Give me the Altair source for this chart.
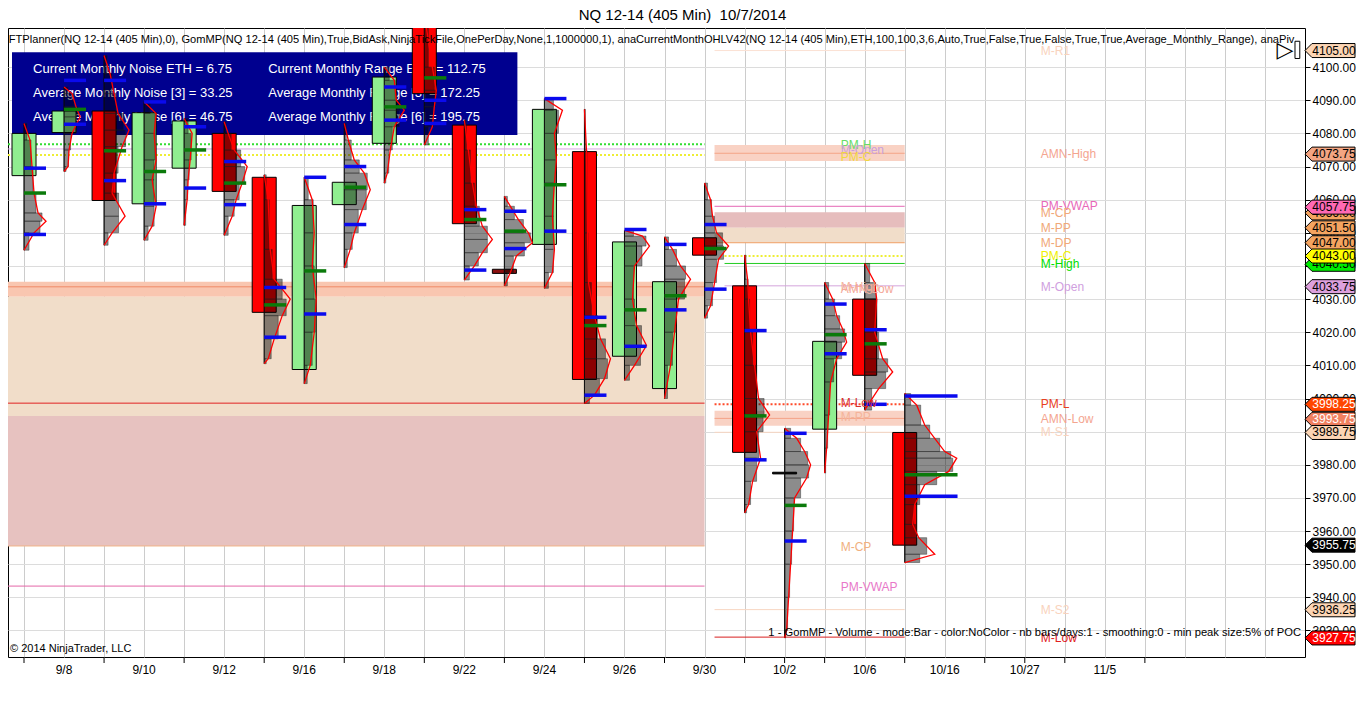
import altair as alt
import pandas as pd

FONT = "Liberation Sans"

# ---------------- candles (one 405-min session per slot) ----------------
slots  = list(range(23))
opens  = [4067.25, 4080.25, 4086.75, 4058.75, 4069.5, 4080.0, 4066.75, 4008.75, 4058.5, 4077.0, 4114.0, 4082.5,
          4039.0, 4046.5, 4074.5, 4012.75, 4003.0, 4048.5, 4034.0, 3977.75, 3990.75, 4030.0, 3989.75]
highs  = [4083.0, 4094.0, 4103.5, 4089.5, 4084.5, 4083.5, 4067.5, 4066.75, 4083.0, 4100.0, 4116.0, 4084.0,
          4061.0, 4090.5, 4087.25, 4050.75, 4048.75, 4065.0, 4043.25, 3991.0, 4035.0, 4040.75, 4001.5]
lows   = [4044.75, 4068.5, 4046.25, 4047.75, 4052.25, 4049.25, 4010.5, 4004.5, 4039.5, 4065.0, 4076.5, 4035.75,
          4034.0, 4033.25, 3998.5, 4005.5, 4000.0, 4024.25, 3965.5, 3927.75, 3977.5, 3996.5, 3950.5]
closes = [4080.0, 4086.75, 4059.75, 4086.25, 4083.75, 4062.5, 4026.0, 4058.25, 4065.25, 4097.0, 4092.0, 4052.75,
          4037.75, 4087.25, 4005.75, 4047.25, 4035.25, 4043.25, 3983.75, 3977.25, 4017.25, 4007.0, 3955.75]
doji_colors = {12: "#8b1010", 19: "#000000"}

# value-area high / low (blue) and VWAP-like (green) markers per session
blue_hi = [4069.5, 4096.0, 4096.0, 4089.5, 4082.0, 4071.5, 4033.5, 4066.75, 4070.0, 4094.0, 4090.0, 4057.0,
           4056.5, 4090.5, 4024.5, 4051.0, 4046.5, 4052.5, 4020.5, 3989.5, 4028.5, 4020.75, 4000.75]
blue_lo = [4049.5, 4082.75, 4065.75, 4058.75, 4063.5, 4058.5, 4018.5, 4025.5, 4052.5, 4084.0, 4083.0, 4038.75,
           4045.25, 4050.5, 4001.0, 4015.75, 4026.75, 4033.0, 3981.5, 3957.0, 4013.5, 3998.25, 3970.5]
green_m = [4062.0, 4087.25, 4074.75, 4068.5, 4075.0, 4065.0, 4028.25, 4038.5, 4063.75, 4088.0, 4096.75, 4054.0,
           4050.5, 4064.5, 4022.0, 4026.75, 4031.0, 4045.25, 3994.75, 3967.75, 4019.25, 4016.5, 3977.0]

# volume profiles: (price, width in px-equivalent volume)
profile_0 = [(4083, 0), (4078, 6), (4070, 8), (4062, 10), (4056, 14), (4053.5, 22), (4050, 10), (4044.75, 0)]
profile_1 = [(4094, 0), (4092, 8), (4088, 12), (4085, 16), (4080, 8), (4075, 5), (4070, 4), (4068.5, 0)]
profile_2 = [(4103.5, 0), (4098, 6), (4092, 10), (4086, 14), (4081, 25), (4076, 18), (4068, 10), (4062, 8),
             (4055, 21), (4050, 8), (4046.25, 0)]
profile_3 = [(4089.5, 0), (4086, 12), (4080, 10), (4072, 12), (4066, 8), (4058, 12), (4052, 8), (4047.75, 0)]
profile_4 = [(4084.5, 0), (4080, 8), (4072, 6), (4066, 4), (4060, 3), (4052.25, 0)]
profile_5 = [(4083.5, 0), (4080, 4), (4075, 10), (4070, 23), (4065, 18), (4060, 12), (4055, 8), (4049.25, 0)]
profile_6 = [(4067.5, 0), (4060, 4), (4045, 6), (4036, 10), (4030, 26), (4025, 18), (4018, 10), (4012, 4), (4010.5, 0)]
profile_7 = [(4066.75, 0), (4060, 8), (4050, 10), (4040, 8), (4030, 12), (4020, 10), (4010, 6), (4004.5, 0)]
profile_8 = [(4083, 0), (4078, 4), (4072, 10), (4068, 20), (4063, 26), (4057, 18), (4050, 10), (4045, 6), (4039.5, 0)]
profile_9 = [(4100, 0), (4096, 10), (4090, 12), (4087, 20), (4082, 10), (4075, 6), (4068, 3), (4065, 0)]
profile_10 = [(4116, 0), (4100, 8), (4093, 12), (4088, 10), (4082, 8), (4076.5, 0)]
profile_11 = [(4084, 0), (4075, 4), (4065, 8), (4058, 12), (4052, 18), (4048, 28), (4044, 18), (4040, 10), (4035.75, 0)]
profile_12 = [(4061, 0), (4058, 6), (4054, 14), (4050, 24), (4047, 28), (4043, 12), (4038, 6), (4034, 0)]
profile_13 = [(4090.5, 0), (4087, 18), (4080, 10), (4072, 12), (4065, 10), (4055, 8), (4045, 10), (4038, 8), (4033.25, 0)]
profile_14 = [(4087.25, 0), (4075, 2), (4050, 3), (4035, 4), (4025, 10), (4018, 16), (4012, 26), (4006, 20),
              (4001, 10), (3998.5, 0)]
profile_15 = [(4050.75, 0), (4049, 18), (4046, 25), (4040, 10), (4030, 8), (4022, 12), (4016, 22), (4010, 10), (4005.5, 0)]
profile_16 = [(4048.75, 0), (4045, 8), (4040, 16), (4036, 26), (4030, 14), (4020, 10), (4010, 6), (4000, 0)]
profile_17 = [(4065, 0), (4060, 6), (4055, 8), (4050, 12), (4046, 24), (4042, 14), (4035, 10), (4028, 6), (4024.25, 0)]
profile_18 = [(4043.25, 0), (4036, 3), (4030, 4), (4020, 6), (4010, 10), (4000, 14), (3995, 25), (3990, 12),
              (3982, 16), (3975, 8), (3968, 4), (3965.5, 0)]
profile_19 = [(3991, 0), (3988, 12), (3984, 20), (3980, 26), (3976, 22), (3970, 10), (3960, 8), (3950, 6),
              (3940, 4), (3930, 2), (3927.75, 0)]
profile_20 = [(4035, 0), (4030, 8), (4025, 12), (4021, 18), (4017, 22), (4012, 12), (4005, 6), (3995, 4),
              (3985, 2), (3977.5, 0)]
profile_21 = [(4040.75, 0), (4035, 10), (4030, 12), (4020, 10), (4012, 18), (4008, 28), (4003, 14), (3996.5, 0)]
profile_22 = [(4001.5, 0), (3998, 12), (3992, 20), (3988, 30), (3984, 40), (3982, 52), (3978, 44), (3974, 20),
              (3968, 10), (3962, 8), (3958, 14), (3953, 30), (3950.5, 0)]
profiles = [profile_0, profile_1, profile_2, profile_3, profile_4, profile_5, profile_6, profile_7, profile_8,
            profile_9, profile_10, profile_11, profile_12, profile_13, profile_14, profile_15, profile_16,
            profile_17, profile_18, profile_19, profile_20, profile_21, profile_22]
PX_PER_SLOT = 40.0

# ---------------- axes ----------------
axis_label_slots = [1, 3, 5, 7, 9, 11, 13, 15, 17, 19, 21, 23, 25, 27]
axis_label_texts = ["9/8", "9/10", "9/12", "9/16", "9/18", "9/22", "9/24", "9/26", "9/30",
                    "10/2", "10/6", "10/16", "10/27", "11/5"]
tick_slots = [0, 2, 4, 6, 8, 10, 12, 14, 16, 18, 19, 20, 22, 24, 25, 26, 28]
grid_slots = list(range(0, 33))
y_ticks = list(range(3930, 4101, 10))

# ---------------- monthly levels ----------------
band_x0 = [-0.4, -0.4, -0.4, 17.25, 17.25, 17.25, 17.25]
band_x1 = [17.0, 17.0, 17.0, 22.0, 22.0, 22.0, 22.0]
band_top = [4035.2, 4030.7, 3994.7, 4076.5, 4056.2, 4051.5, 3996.3]
band_bot = [4030.7, 3994.7, 3955.5, 4071.7, 4051.5, 4047.0, 3991.8]
band_col = ["#f9c6b0", "#f1ddc9", "#e7c2c0", "#f9d2c4", "#e6bdbd", "#f1ddc9", "#f9d2c4"]

solid_x0 = [-0.4, -0.4, -0.4, -0.4, -0.4, 17.25, 17.25, 17.25, 17.25, 17.5, 17.5, 17.25, 17.25, 17.25, 17.25]
solid_x1 = [17.0, 17.0, 17.0, 17.0, 17.0, 22.0, 22.0, 22.0, 22.0, 22.0, 22.0, 22.0, 22.0, 22.0, 22.0]
solid_p = [4075.3, 4033.7, 3998.6, 3955.5, 3943.4, 4105.0, 4074.0, 4058.0, 4047.0, 4040.75, 4034.0,
           3994.0, 3989.8, 3936.3, 3928.0]
solid_col = ["#d6a8e2", "#f08a66", "#e02222", "#f0b488", "#e466a8", "#fbe2d4", "#f4a488", "#e466b4",
             "#f0a066", "#22cc22", "#d4a4dc", "#f4a488", "#f8d6c2", "#f8d6c2", "#d82020"]

dot_x0 = [-0.4, -0.4, 17.5, 17.25]
dot_x1 = [17.0, 17.0, 22.0, 22.0]
dot_p = [4076.75, 4073.5, 4043.0, 3998.25]
dot_col = ["#33dd33", "#eeee33", "#eeee33", "#ff4a2a"]

lab_x = [20.4] * 9 + [25.4] * 14
lab_p = [4076.6, 4075.0, 4072.8, 4033.5, 4033.1, 3998.6, 3994.4, 3955.2, 3943.1,
         4105.0, 4073.75, 4058.0, 4056.0, 4051.5, 4047.0, 4043.0, 4040.5, 4033.75, 3998.25, 3993.75,
         3989.75, 3936.25, 3927.75]
lab_t = ["PM-H", "M-Open", "PM-C", "M-High", "AMN-Low", "M-Low", "M-PP", "M-CP", "PM-VWAP",
         "M-R1", "AMN-High", "PM-VWAP", "M-CP", "M-PP", "M-DP", "PM-C", "M-High", "M-Open", "PM-L", "AMN-Low",
         "M-S1", "M-S2", "M-Low"]
lab_c = ["#66dd66", "#c8a0dc", "#f0d840", "#f4b4a0", "#f4a898", "#d83030", "#f4b49a", "#f0b080", "#e878c8",
         "#f9d3bd", "#f4a590", "#e868b8", "#f0a878", "#f0a878", "#f0a878", "#f0f000", "#00dd00", "#d0a0e0",
         "#e84020", "#f4a590", "#f9d3bd", "#f9d3bd", "#e02020"]

tag_p = [4105.00, 4073.75, 4056.00, 4057.75, 4051.50, 4047.00, 4040.50, 4043.00, 4033.75,
         3998.25, 3993.75, 3989.75, 3955.75, 3936.25, 3927.75]
tag_fill = ["#fcd5b4", "#f4a582", "#f4a460", "#ff69b4", "#f4a460", "#f4a460", "#00ee00", "#ffff00", "#dda0dd",
            "#ff4500", "#f08060", "#fcd5b4", "#000000", "#fcd5b4", "#ff0000"]
tag_txt = ["black", "black", "black", "black", "black", "black", "black", "black", "black",
           "white", "white", "black", "white", "black", "white"]

info_left = ["Current Monthly Noise ETH = 6.75", "Average Monthly Noise [3] = 33.25", "Average Monthly Noise [6] = 46.75"]
info_right = ["Current Monthly Range ETH = 112.75", "Average Monthly Range [3] = 172.25",
              "Average Monthly Range [6] = 195.75"]
info_rows_p = [4099.4, 4092.2, 4084.9]

indicator_text = ("FTPlanner(NQ 12-14 (405 Min),0), GomMP(NQ 12-14 (405 Min),True,BidAsk,NinjaTickFile,OnePerDay,"
                  "None,1,1000000,1), anaCurrentMonthOHLV42(NQ 12-14 (405 Min),ETH,100,100,3,6,Auto,True,False,"
                  "True,False,True,True,Average_Monthly_Range), anaPiv")
gom_text = "1 - GomMP - Volume - mode:Bar - color:NoColor - nb bars/days:1 - smoothing:0 - min peak size:5% of POC"

# ---------------- scales & shared axes ----------------
XS = alt.Scale(domain=[-0.4, 32.0], nice=False, zero=False)
YS = alt.Scale(domain=[3922.0, 4111.8], nice=False, zero=False)
AX_X = alt.Axis(values=grid_slots, grid=True, gridColor="#cccccc", ticks=False, labels=False,
                domain=False, title=None)
AX_Y = alt.Axis(orient="right", values=y_ticks, format=".2f", grid=True, gridColor="#dcdcdc", tickSize=5,
                tickColor="black", domainColor="black", labelFontSize=12, labelColor="black", labelPadding=2,
                labelOverlap=False, labelFont=FONT, title=None)


def X(f):
    return alt.X(f, type="quantitative", scale=XS, axis=AX_X)


def Y(f):
    return alt.Y(f, type="quantitative", scale=YS, axis=AX_Y)


# ---------------- layers ----------------
bands = pd.DataFrame({"x0": band_x0, "x1": band_x1, "top": band_top, "bot": band_bot, "c": band_col})
band_layer = alt.Chart(bands).mark_rect(clip=True).encode(
    x=X("x0"), x2="x1", y=Y("top"), y2="bot", color=alt.Color("c:N", scale=None))

solids = pd.DataFrame({"x0": solid_x0, "x1": solid_x1, "p": solid_p, "c": solid_col})
solid_layer = alt.Chart(solids).mark_rule(strokeWidth=1, clip=True).encode(
    x=X("x0"), x2="x1", y=Y("p"), color=alt.Color("c:N", scale=None))

dots = pd.DataFrame({"x0": dot_x0, "x1": dot_x1, "p": dot_p, "c": dot_col})
dot_layer = alt.Chart(dots).mark_rule(strokeWidth=2, strokeDash=[2, 2], clip=True).encode(
    x=X("x0"), x2="x1", y=Y("p"), color=alt.Color("c:N", scale=None))

box = pd.DataFrame({"x0": [-0.3], "x1": [12.325], "top": [4104.5], "bot": [4079.5]})
box_layer = alt.Chart(box).mark_rect(color="#00008f").encode(x=X("x0"), x2="x1", y=Y("top"), y2="bot")

info = pd.DataFrame({"x": [0.225] * 3 + [6.1] * 3, "p": info_rows_p * 2, "t": info_left + info_right})
info_layer = alt.Chart(info).mark_text(align="left", baseline="middle", fontSize=13, font=FONT,
                                       color="white").encode(x=X("x"), y=Y("p"), text="t:N")

candles = pd.DataFrame({"slot": slots, "o": opens, "h": highs, "l": lows, "c": closes})
candles["left"] = candles["slot"] - 0.3
candles["right"] = candles["slot"] + 0.3
candles["fill"] = ["#90ee90" if c > o else "#ff0000" for o, c in zip(opens, closes)]
for k, col in doji_colors.items():
    candles.loc[k, "fill"] = col
body_layer = alt.Chart(candles).mark_rect(stroke="black", strokeWidth=1, clip=True).encode(
    x=X("left"), x2="right", y=Y("o"), y2="c", color=alt.Color("fill:N", scale=None))
wick_layer = alt.Chart(candles).mark_rule(color="black", strokeWidth=1, clip=True).encode(
    x=X("slot"), y=Y("l"), y2="h")

# profile outline points and histogram blocks between consecutive knots
prow, brow = [], []
for k, prof in enumerate(profiles):
    for p, w in prof:
        prow.append({"slot": k, "p": p, "x1": k + w / PX_PER_SLOT})
    for (pa, wa), (pb, wb) in zip(prof[:-1], prof[1:]):
        brow.append({"slot": k, "pa": pa, "pb": pb, "x0": k, "x1": k + (wa + wb) / 2 / PX_PER_SLOT})
prof_df = pd.DataFrame(prow)
block_df = pd.DataFrame(brow)
prof_blocks = alt.Chart(block_df).mark_rect(color="black", fillOpacity=0.45, stroke="#202020",
                                            strokeOpacity=0.7, strokeWidth=0.6, clip=True).encode(
    x=X("x0"), x2="x1", y=Y("pa"), y2="pb")
prof_line = alt.Chart(prof_df).mark_line(color="#ff0000", strokeWidth=1.3, clip=True).encode(
    y=Y("p"), x=X("x1"), detail="slot:N", order="p:Q")

mrows = []
for k in slots:
    ln = 1.32 if k == 22 else 0.55
    mrows.append({"x0": k, "x1": k + ln, "p": blue_hi[k], "c": "#0a0aee"})
    mrows.append({"x0": k, "x1": k + ln, "p": blue_lo[k], "c": "#0a0aee"})
    mrows.append({"x0": k, "x1": k + ln, "p": green_m[k], "c": "#0b7a0b"})
marks = pd.DataFrame(mrows)
marker_layer = alt.Chart(marks).mark_rule(strokeWidth=3.5, clip=True).encode(
    x=X("x0"), x2="x1", y=Y("p"), color=alt.Color("c:N", scale=None))

labs = pd.DataFrame({"x": lab_x, "p": lab_p, "t": lab_t, "c": lab_c})
lab_layer = alt.Chart(labs).mark_text(align="left", baseline="middle", fontSize=12, font=FONT).encode(
    x=X("x"), y=Y("p"), text="t:N", color=alt.Color("c:N", scale=None))

ticks = pd.DataFrame({"s": tick_slots})
tick_layer = alt.Chart(ticks).mark_rule(color="black", strokeWidth=1).encode(
    x=X("s"), y=alt.value(629), y2=alt.value(635))

xlabs = pd.DataFrame({"s": axis_label_slots, "t": axis_label_texts})
xlab_layer = alt.Chart(xlabs).mark_text(align="center", baseline="middle", fontSize=12, font=FONT,
                                        color="black").encode(x=X("s"), y=alt.value(642), text="t:N")

ind = pd.DataFrame({"x": [-0.38], "p": [4108.3], "t": [indicator_text]})
ind_layer = alt.Chart(ind).mark_text(align="left", baseline="middle", fontSize=11.1, font=FONT, color="black",
                                     clip=True).encode(x=X("x"), y=Y("p"), text="t:N")

copy = pd.DataFrame({"x": [-0.35], "p": [3924.3], "t": ["\u00a9 2014 NinjaTrader, LLC"]})
copy_layer = alt.Chart(copy).mark_text(align="left", baseline="middle", fontSize=11, font=FONT,
                                       color="black").encode(x=X("x"), y=Y("p"), text="t:N")

gom = pd.DataFrame({"x": [31.9], "p": [3929.3], "t": [gom_text]})
gom_layer = alt.Chart(gom).mark_text(align="right", baseline="middle", fontSize=11.2, font=FONT,
                                     color="black").encode(x=X("x"), y=Y("p"), text="t:N")

icon = pd.DataFrame({"x": [31.5], "p": [4105.2], "t": ["\u25b7"]})
icon_layer = alt.Chart(icon).mark_text(align="center", baseline="middle", fontSize=22, font="DejaVu Sans",
                                       color="black").encode(x=X("x"), y=Y("p"), text="t:N")
icon_bar = pd.DataFrame({"x0": [31.75], "x1": [31.87], "top": [4107.8], "bot": [4102.6]})
icon_bar_layer = alt.Chart(icon_bar).mark_rect(fill="white", stroke="black", strokeWidth=1).encode(
    x=X("x0"), x2="x1", y=Y("top"), y2="bot")

TAG_PATH = "M -1 0 L -0.72 -0.28 L 1 -0.28 L 1 0.28 L -0.72 0.28 Z"
tag_layers = []
for p, f, tc in zip(tag_p, tag_fill, tag_txt):
    d = pd.DataFrame({"p": [p], "t": [f"{p:.2f}"]})
    tag_layers.append(alt.Chart(d).mark_point(shape=TAG_PATH, size=2500, filled=True, fill=f, stroke="black",
                                              strokeWidth=1, opacity=1).encode(
        x=alt.value(1322), y=Y("p")))
    tag_layers.append(alt.Chart(d).mark_text(align="center", baseline="middle", fontSize=12, font=FONT,
                                             color=tc).encode(x=alt.value(1326), y=Y("p"), text="t:N"))

chart = alt.layer(
    band_layer, solid_layer, dot_layer, box_layer, info_layer, body_layer, wick_layer,
    prof_blocks, prof_line, marker_layer, lab_layer, tick_layer, xlab_layer, ind_layer, copy_layer, gom_layer,
    icon_layer, icon_bar_layer, *tag_layers
).properties(
    width=1297, height=629,
    autosize=alt.AutoSizeParams(type="none"),
    padding={"left": 0, "top": 20, "right": 53, "bottom": 36},
    title=alt.Title("NQ 12-14 (405 Min)\u00a0 10/7/2014", fontSize=15, font=FONT, fontWeight="normal",
                    anchor="middle", dx=26, offset=5, color="black"),
).configure(font=FONT, background="white").configure_view(stroke="black", strokeWidth=1)

chart.save("out.html", embed_options={"renderer": "svg", "actions": False})
